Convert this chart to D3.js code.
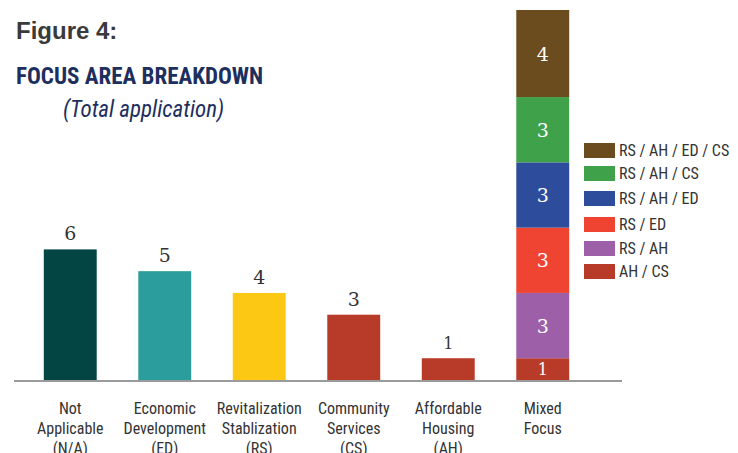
<!DOCTYPE html>
<html>
<head>
<meta charset="utf-8">
<script src="https://cdn.jsdelivr.net/npm/d3@7"></script>
<style>
  body { margin: 0; background: #fff; }
  svg { display: block; }
</style>
</head>
<body>
<div id="chart"></div>
<script>
// data
var categories = ["Not Applicable (N/A)", "Economic Development (ED)", "Revitalization Stablization (RS)",
                  "Community Services (CS)", "Affordable Housing (AH)", "Mixed Focus"];
var categoryLines = [["Not", "Applicable", "(N/A)"], ["Economic", "Development", "(ED)"],
                     ["Revitalization", "Stablization", "(RS)"], ["Community", "Services", "(CS)"],
                     ["Affordable", "Housing", "(AH)"], ["Mixed", "Focus"]];
var singleValues = [6, 5, 4, 3, 1];
var singleColors = ["#034542", "#2a9d9c", "#fcc813", "#b83a28", "#b83a28"];

var mixedKeys = ["AH / CS", "RS / AH", "RS / ED", "RS / AH / ED", "RS / AH / CS", "RS / AH / ED / CS"];
var mixedValues = [1, 3, 3, 3, 3, 4];
var mixedColors = ["#b83a28", "#9c5fa8", "#ee4431", "#2e4c9c", "#3fa24a", "#6b4c1e"];

var width = 738, height = 453;
var baseY = 380;
var condensed = "'Liberation Sans Narrow', 'Roboto Condensed', 'Open Sans', sans-serif";
var serif = "'DejaVu Serif', 'Liberation Serif', serif";

var svg = d3.select("#chart").append("svg")
  .attr("width", width)
  .attr("height", height);

var x = d3.scaleBand()
  .domain(categories)
  .range([23, 590])
  .paddingInner(0.44)
  .paddingOuter(0.22);

var y = d3.scaleLinear()
  .domain([0, d3.sum(mixedValues)])
  .range([baseY, 10]);

// titles
svg.append("text").attr("x", 16).attr("y", 39)
  .text("Figure 4:")
  .attr("font-family", "'Liberation Sans', Arial, sans-serif")
  .attr("font-weight", "bold").attr("font-size", 24).attr("fill", "#3a3a3a");
svg.append("text").attr("x", 16).attr("y", 84)
  .text("FOCUS AREA BREAKDOWN")
  .attr("font-family", condensed)
  .attr("font-weight", "bold").attr("font-size", 23).attr("fill", "#1d2f5e");
svg.append("text").attr("x", 63).attr("y", 117)
  .text("(Total application)")
  .attr("font-family", condensed)
  .attr("font-style", "italic").attr("font-size", 23).attr("fill", "#1d2f5e");

// single focus bars
var singles = svg.append("g").attr("class", "singles");
singleValues.forEach(function(v, i){
  var cx = x(categories[i]) + x.bandwidth()/2;
  singles.append("rect")
    .attr("x", x(categories[i]))
    .attr("y", y(v))
    .attr("width", x.bandwidth())
    .attr("height", baseY - y(v))
    .attr("fill", singleColors[i]);
  singles.append("text")
    .attr("x", cx)
    .attr("y", y(v) - 9)
    .attr("text-anchor", "middle")
    .attr("font-family", serif)
    .attr("font-size", v == 1 ? 16 : 19)
    .attr("fill", "#333")
    .text(v);
});

// mixed stacked bar
var mixedCat = categories[5];
var stack = svg.append("g").attr("class", "mixed");
var acc = 0;
mixedValues.forEach(function(v, i){
  var y0 = y(acc), y1 = y(acc + v);
  stack.append("rect")
    .attr("x", x(mixedCat))
    .attr("y", y1)
    .attr("width", x.bandwidth())
    .attr("height", y0 - y1)
    .attr("fill", mixedColors[i]);
  stack.append("text")
    .attr("x", x(mixedCat) + x.bandwidth()/2)
    .attr("y", (y0 + y1)/2 + (v == 1 ? 6 : 7))
    .attr("text-anchor", "middle")
    .attr("font-family", serif)
    .attr("font-size", v == 1 ? 16 : 19)
    .attr("fill", "#fff")
    .text(v);
  acc += v;
});

// baseline
svg.append("line")
  .attr("x1", 14).attr("x2", 622)
  .attr("y1", baseY + 1).attr("y2", baseY + 1)
  .attr("stroke", "#9a9a9a").attr("stroke-width", 2);

// category labels
categoryLines.forEach(function(lines, i){
  var t = svg.append("text")
    .attr("x", x(categories[i]) + x.bandwidth()/2)
    .attr("y", 414)
    .attr("text-anchor", "middle")
    .attr("font-family", condensed)
    .attr("font-size", 16)
    .attr("fill", "#333");
  lines.forEach(function(l, j){
    t.append("tspan")
      .attr("x", x(categories[i]) + x.bandwidth()/2)
      .attr("dy", j == 0 ? 0 : 20)
      .text(l);
  });
});

// legend (top to bottom = top of stack first)
var legendY = [143, 166, 191, 217, 241, 264];
var legend = svg.append("g").attr("class", "legend");
mixedKeys.slice().reverse().forEach(function(k, i){
  var color = mixedColors[mixedKeys.length - 1 - i];
  legend.append("rect")
    .attr("x", 584).attr("y", legendY[i])
    .attr("width", 31).attr("height", 15)
    .attr("fill", color);
  legend.append("text")
    .attr("x", 619).attr("y", legendY[i] + 13)
    .attr("font-family", condensed)
    .attr("font-size", 16)
    .attr("fill", "#333")
    .text(k);
});
</script>
</body>
</html>
